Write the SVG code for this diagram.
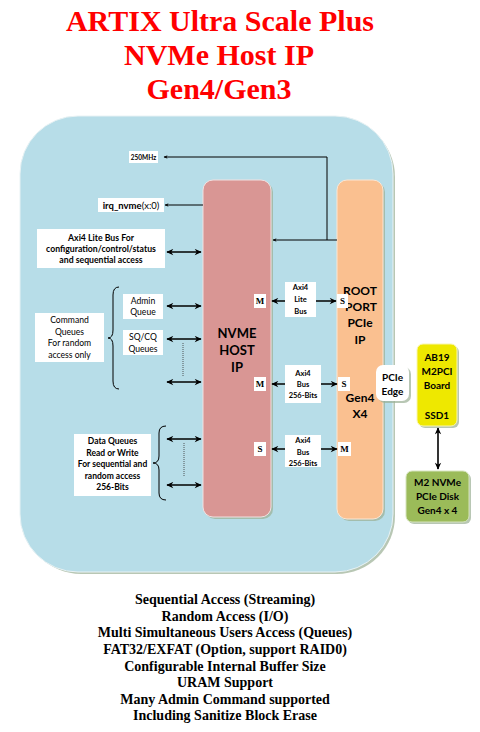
<svg xmlns="http://www.w3.org/2000/svg" width="480" height="732" viewBox="0 0 480 732">
<defs>
<style>
.title{font-family:"Liberation Serif","Times New Roman",serif;font-weight:bold;font-size:30px;fill:#FF0000;text-anchor:middle}
.foot{font-family:"Liberation Serif","Times New Roman",serif;font-weight:bold;font-size:14px;fill:#000;text-anchor:middle}
.t{font-family:Lato,"Liberation Sans",sans-serif;fill:#000;text-anchor:middle}
.b{font-weight:bold}
.ms{font-family:"Liberation Serif","Times New Roman",serif;font-weight:bold;font-size:9px;fill:#000;text-anchor:middle}
.box{fill:#FFFFFF}
.dbl{stroke:#000;stroke-width:1.6;fill:none;marker-start:url(#ah);marker-end:url(#ah)}
.thin{stroke:#000;stroke-width:1;fill:none;marker-end:url(#sa)}
.dot{stroke:#333;stroke-width:0.8;stroke-dasharray:1 1;fill:none}
.brace{stroke:#000;stroke-width:1;fill:none}
.sh{fill:#9AAF94;opacity:0.7}
</style>
<marker id="ah" viewBox="0 0 10 10" refX="9" refY="5" markerWidth="8" markerHeight="7" orient="auto-start-reverse" markerUnits="userSpaceOnUse">
<path d="M0,0.5 L10,5 L0,9.5 L3,5z" fill="#000"/>
</marker>
<marker id="sa" viewBox="0 0 10 10" refX="9" refY="5" markerWidth="5" markerHeight="4" orient="auto" markerUnits="userSpaceOnUse">
<path d="M0,0.5 L10,5 L0,9.5 L3,5z" fill="#000"/>
</marker>
</defs>
<rect width="480" height="732" fill="#FFFFFF"/>

<g id="title">
<text class="title" x="220" y="31">ARTIX Ultra Scale Plus</text>
<text class="title" x="219" y="65">NVMe Host IP</text>
<text class="title" x="219" y="99">Gen4/Gen3</text>
</g>

<g id="fpga">
<rect x="23" y="119" width="372" height="455" rx="58" class="sh"/>
<rect x="20" y="116" width="373" height="456" rx="58" fill="#B7DDE8" stroke="#E8F2F4" stroke-width="1"/>
</g>

<g id="nvme-host-ip">
<rect x="205" y="182" width="68" height="337" rx="10" class="sh"/>
<rect x="203" y="180" width="68" height="337" rx="10" fill="#D99694" stroke="#F2E0E0" stroke-width="1"/>
<text class="t b" font-size="13" x="237" y="338">NVME</text>
<text class="t b" font-size="13" x="237" y="355">HOST</text>
<text class="t b" font-size="13" x="237" y="372">IP</text>
</g>

<g id="root-port">
<rect x="339" y="182" width="46" height="339" rx="10" class="sh"/>
<rect x="337" y="180" width="46" height="339" rx="10" fill="#FAC090" stroke="#FBE6D4" stroke-width="1"/>
<text class="t b" font-size="12" x="360" y="295">ROOT</text>
<text class="t b" font-size="12" x="361" y="311">PORT</text>
<text class="t b" font-size="12" x="360" y="327">PCIe</text>
<text class="t b" font-size="12" x="360" y="344">IP</text>
<text class="t b" font-size="12" x="360" y="402">Gen4</text>
<text class="t b" font-size="12" x="360" y="418">X4</text>
</g>

<g id="connectors">
<path class="thin" d="M337,240 H273"/>
<path class="thin" d="M327,240 V157 H164"/>
<path class="thin" d="M203,205 H165"/>
<path class="dbl" d="M167,252 H201"/>
<path class="dbl" d="M167,306 H201"/>
<path class="dbl" d="M167,339 H201"/>
<path class="dbl" d="M167,382 H201"/>
<path class="dot" d="M183,343 V377"/>
<path class="dbl" d="M167,439 H201"/>
<path class="dbl" d="M167,485 H201"/>
<path class="dot" d="M184,443 V476"/>
<path class="dbl" d="M272,301 H336"/>
<path class="dbl" d="M272,384 H337"/>
<path class="dbl" d="M272,449 H337"/>
<path class="dbl" d="M438,428 V469"/>
<path class="brace" d="M119,287 Q113,287 113,295 L113,330 Q113,338 108,338 Q113,338 113,346 L113,381 Q113,389 119,389"/>
<path class="brace" d="M166,426 Q159,426 159,433 L159,456 Q159,463 153,463 Q159,463 159,470 L159,493 Q159,500 166,500"/>
</g>

<g id="clk-label">
<rect class="box" x="129" y="151" width="29" height="12"/>
<text class="t b" font-size="6.5" x="143.5" y="159.5">250MHz</text>
</g>

<g id="irq-label">
<rect class="box" x="98" y="198" width="66" height="14"/>
<text class="t" font-size="9.5" x="131" y="208.5"><tspan font-weight="bold">irq_nvme</tspan>(x:0)</text>
</g>

<g id="axi4-lite-bus">
<rect class="box" x="37" y="229" width="128" height="39"/>
<text class="t b" font-size="8.7" x="101" y="241">Axi4 Lite Bus For</text>
<text class="t b" font-size="8.7" x="101" y="252">configuration/control/status</text>
<text class="t b" font-size="8.7" x="101" y="263">and sequential access</text>
</g>

<g id="command-queues">
<rect class="box" x="35" y="313" width="69" height="49"/>
<text class="t" font-size="8.6" x="69.5" y="323">Command</text>
<text class="t" font-size="8.6" x="69.5" y="335">Queues</text>
<text class="t" font-size="8.6" x="69.5" y="346">For random</text>
<text class="t" font-size="8.6" x="69.5" y="358">access only</text>
</g>

<g id="admin-queue">
<rect class="box" x="123" y="294" width="40" height="25"/>
<text class="t" font-size="8.6" x="143" y="304">Admin</text>
<text class="t" font-size="8.6" x="143" y="315">Queue</text>
</g>

<g id="sqcq-queues">
<rect class="box" x="123" y="330" width="40" height="25"/>
<text class="t" font-size="8.6" x="143" y="340">SQ/CQ</text>
<text class="t" font-size="8.6" x="143" y="352">Queues</text>
</g>

<g id="data-queues">
<rect class="box" x="74" y="434" width="77" height="62"/>
<text class="t b" font-size="8.5" x="112.5" y="444">Data Queues</text>
<text class="t b" font-size="8.5" x="112.5" y="455.5">Read or Write</text>
<text class="t b" font-size="8.5" x="112.5" y="467">For sequential and</text>
<text class="t b" font-size="8.5" x="112.5" y="478.5">random access</text>
<text class="t b" font-size="8.5" x="112.5" y="490">256-Bits</text>
</g>

<g id="bus-lite">
<rect class="box" x="285" y="282" width="31" height="35"/>
<text class="t b" font-size="7.5" x="300.5" y="290">Axi4</text>
<text class="t b" font-size="7.5" x="300.5" y="302">Lite</text>
<text class="t b" font-size="7.5" x="300.5" y="314">Bus</text>
<rect class="box" x="254" y="294" width="12" height="14"/>
<text class="ms" x="260" y="304">M</text>
<rect class="box" x="337" y="294" width="11" height="14"/>
<text class="ms" x="342.5" y="304">S</text>
</g>

<g id="bus-256-a">
<rect class="box" x="285" y="365" width="36" height="38"/>
<text class="t b" font-size="7.5" x="303" y="375.5">Axi4</text>
<text class="t b" font-size="7.5" x="303" y="386.5">Bus</text>
<text class="t b" font-size="7.5" x="303" y="398">256-Bits</text>
<rect class="box" x="254" y="377" width="12" height="14"/>
<text class="ms" x="260" y="387">M</text>
<rect class="box" x="338" y="377" width="12" height="14"/>
<text class="ms" x="344" y="387">S</text>
</g>

<g id="bus-256-b">
<rect class="box" x="285" y="435" width="36" height="32"/>
<text class="t b" font-size="7.5" x="303" y="443">Axi4</text>
<text class="t b" font-size="7.5" x="303" y="454.5">Bus</text>
<text class="t b" font-size="7.5" x="303" y="466">256-Bits</text>
<rect class="box" x="254" y="442" width="12" height="14"/>
<text class="ms" x="260" y="452">S</text>
<rect class="box" x="338" y="442" width="13" height="14"/>
<text class="ms" x="344.5" y="452">M</text>
</g>

<g id="pcie-edge">
<rect x="378" y="367" width="33" height="36" rx="7" class="sh"/>
<rect x="376" y="365" width="33" height="36" rx="7" fill="#FFFFFF"/>
<text class="t b" font-size="10" x="392.5" y="381">PCIe</text>
<text class="t b" font-size="10" x="392.5" y="395">Edge</text>
</g>

<g id="ab19-board">
<rect x="419" y="346" width="40" height="82" rx="6" class="sh"/>
<rect x="417" y="344" width="40" height="82" rx="6" fill="#EEE800" stroke="#F8F6B0" stroke-width="1"/>
<text class="t b" font-size="10" x="437" y="361">AB19</text>
<text class="t b" font-size="10" x="437" y="375">M2PCI</text>
<text class="t b" font-size="10" x="437" y="389">Board</text>
<text class="t b" font-size="10" x="437" y="419">SSD1</text>
</g>

<g id="m2-nvme-disk">
<rect x="408" y="473" width="63" height="51" rx="6" class="sh"/>
<rect x="406" y="471" width="63" height="51" rx="6" fill="#9BBB59" stroke="#D6E4BD" stroke-width="1"/>
<text class="t b" font-size="10" x="437.5" y="486">M2 NVMe</text>
<text class="t b" font-size="10" x="437.5" y="500">PCIe Disk</text>
<text class="t b" font-size="10" x="437.5" y="514">Gen4 x 4</text>
</g>

<g id="features">
<text class="foot" x="225" y="604">Sequential Access (Streaming)</text>
<text class="foot" x="225" y="621">Random Access (I/O)</text>
<text class="foot" x="225" y="637">Multi Simultaneous Users Access (Queues)</text>
<text class="foot" x="225" y="654">FAT32/EXFAT (Option, support RAID0)</text>
<text class="foot" x="225" y="671">Configurable Internal Buffer Size</text>
<text class="foot" x="225" y="687">URAM Support</text>
<text class="foot" x="225" y="704">Many Admin Command supported</text>
<text class="foot" x="225" y="720">Including Sanitize Block Erase</text>
</g>
</svg>
